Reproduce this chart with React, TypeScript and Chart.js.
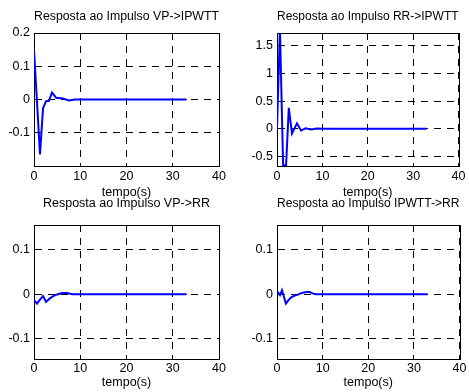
import React, { useEffect, useRef } from "react";
import { Chart, registerables } from "chart.js";

Chart.register(...registerables);

// ---- data ----
const X_TICKS = [0, 10, 20, 30, 40];

const TITLE_VP_IPWTT = "Resposta ao Impulso VP->IPWTT";
const T_VP_IPWTT = [0, 1.3, 1.95, 2.6, 3.25, 3.9, 4.8, 6.2, 7.6, 8.8, 33];
const V_VP_IPWTT = [0.15, -0.165, -0.027, -0.005, -0.004, 0.021, 0.005, 0.003, -0.003, 0, 0];
const Y_TICKS_VP_IPWTT = [-0.1, 0, 0.1, 0.2];

const TITLE_RR_IPWTT = "Resposta ao Impulso RR->IPWTT";
const T_RR_IPWTT = [0, 0.65, 1.35, 2.0, 2.6, 3.3, 4.4, 5.3, 6.3, 7.5, 8.8, 10, 33];
const V_RR_IPWTT = [0, 1.8, -0.66, -0.66, 0.38, -0.085, 0.1, -0.03, 0.01, -0.01, 0.005, 0, 0];
const Y_TICKS_RR_IPWTT = [-0.5, 0, 0.5, 1, 1.5];

const TITLE_VP_RR = "Resposta ao Impulso VP->RR";
const T_VP_RR = [0, 0.65, 1.3, 1.95, 2.6, 3.25, 3.9, 4.55, 5.2, 5.85, 6.5, 7.15, 7.8, 8.45, 9.1, 33];
const V_VP_RR = [-0.013, -0.021, -0.012, -0.004, -0.017, -0.011, -0.006, -0.002, 0, 0.002, 0.003, 0.003, 0.001, 0, 0, 0];
const Y_TICKS_VP_RR = [-0.1, 0, 0.1];

const TITLE_IPWTT_RR = "Resposta ao Impulso IPWTT->RR";
const T_IPWTT_RR = [0, 0.65, 1.1, 1.95, 2.6, 3.25, 3.9, 4.55, 5.2, 5.85, 6.5, 7.15, 7.8, 8.45, 33];
const V_IPWTT_RR = [0.007, -0.002, 0.009, -0.021, -0.012, -0.006, -0.003, -0.001, 0.002, 0.004, 0.005, 0.005, 0.002, 0, 0];
const Y_TICKS_IPWTT_RR = [-0.1, 0, 0.1];

const X_LABEL = "tempo(s)";

// ---- layout ----
const W = 469;
const H = 392;
const FONT_FAMILY = "'Liberation Sans', Arial, Helvetica, sans-serif";
const FS = 12.5;
const LH = 15; // FS * 1.2
const YW = 30;

type Box = { L: number; T: number; R: number; B: number; titleMid: number; tickMid: number; xlabMid: number };

type PanelProps = {
  title: string;
  times: number[];
  values: number[];
  yMin: number;
  yMax: number;
  yTicks: number[];
  box: Box;
};

const framePlugin = {
  id: "frame",
  beforeDatasetsDraw(chart: any) {
    const { ctx, chartArea } = chart;
    const l = Math.round(chartArea.left) + 0.5;
    const t = Math.round(chartArea.top) + 0.5;
    const r = Math.round(chartArea.right) + 0.5;
    const b = Math.round(chartArea.bottom) + 0.5;
    ctx.save();
    ctx.setLineDash([]);
    ctx.strokeStyle = "#000";
    ctx.lineWidth = 1;
    ctx.strokeRect(l, t, r - l, b - t);
    ctx.restore();
  },
};

function Panel({ title, times, values, yMin, yMax, yTicks, box }: PanelProps) {
  const ref = useRef<HTMLCanvasElement | null>(null);
  useEffect(() => {
    if (!ref.current) return;
    const XH = box.xlabMid + LH / 2 - box.B;
    const titlePadTop = box.titleMid - LH / 2;
    const titlePadBottom = box.T - titlePadTop - LH;
    const font = { family: FONT_FAMILY, size: FS, lineHeight: 1.2 };
    const chart = new Chart(ref.current, {
      type: "line",
      data: {
        datasets: [
          {
            data: times.map((t, i) => ({ x: t, y: values[i] })),
            borderColor: "#0000ff",
            borderWidth: 2,
            pointRadius: 0,
            fill: false,
            tension: 0,
          },
        ],
      },
      options: {
        responsive: false,
        animation: false,
        events: [],
        layout: {
          padding: {
            left: box.L - YW,
            right: W - box.R,
            top: 0,
            bottom: H - box.B - XH,
          },
        },
        plugins: {
          legend: { display: false },
          tooltip: { enabled: false },
          title: {
            display: true,
            text: title,
            color: "#000",
            font: { ...font, weight: "normal" },
            padding: { top: titlePadTop, bottom: titlePadBottom },
            fullSize: false,
          },
        },
        scales: {
          x: {
            type: "linear",
            min: X_TICKS[0],
            max: X_TICKS[X_TICKS.length - 1],
            afterBuildTicks: (s: any) => {
              s.ticks = X_TICKS.map((v) => ({ value: v }));
            },
            afterFit: (s: any) => {
              s.height = XH;
            },
            grid: { color: "#000", lineWidth: 1, drawTicks: false },
            border: { display: true, color: "#000", dash: [7, 6] },
            ticks: {
              color: "#000",
              font,
              padding: box.tickMid - box.B - LH / 2,
              maxRotation: 0,
              autoSkip: false,
              callback: (v: any) => String(v),
            },
            title: { display: true, text: X_LABEL, color: "#000", font, padding: 0 },
          },
          y: {
            type: "linear",
            min: yMin,
            max: yMax,
            afterBuildTicks: (s: any) => {
              s.ticks = yTicks.map((v) => ({ value: v }));
            },
            afterFit: (s: any) => {
              s.width = YW;
            },
            grid: { color: "#000", lineWidth: 1, drawTicks: false },
            border: { display: true, color: "#000", dash: [7, 6] },
            ticks: {
              color: "#000",
              font,
              padding: 4,
              autoSkip: false,
              callback: (v: any) => String(v),
            },
          },
        },
      },
      plugins: [framePlugin],
    } as any);
    return () => chart.destroy();
  }, []);
  return (
    <canvas
      ref={ref}
      width={W}
      height={H}
      style={{ position: "absolute", left: 0, top: 0, width: W, height: H }}
    />
  );
}

const TOP_L: Box = { L: 34, T: 33, R: 219, B: 166, titleMid: 17, tickMid: 177, xlabMid: 192.5 };
const TOP_R: Box = { L: 277, T: 33, R: 463, B: 166, titleMid: 17, tickMid: 177, xlabMid: 192.5 };
const BOT_L: Box = { L: 34, T: 225, R: 219, B: 359, titleMid: 203.5, tickMid: 369, xlabMid: 383 };
const BOT_R: Box = { L: 277, T: 225, R: 463, B: 359, titleMid: 203.5, tickMid: 369, xlabMid: 383 };

export default function App() {
  return (
    <div style={{ position: "absolute", left: 0, top: 0, width: W, height: H, background: "#fff" }}>
      <Panel title={TITLE_VP_IPWTT} times={T_VP_IPWTT} values={V_VP_IPWTT} yMin={-0.2} yMax={0.2} yTicks={Y_TICKS_VP_IPWTT} box={TOP_L} />
      <Panel title={TITLE_RR_IPWTT} times={T_RR_IPWTT} values={V_RR_IPWTT} yMin={-0.67} yMax={1.73} yTicks={Y_TICKS_RR_IPWTT} box={TOP_R} />
      <Panel title={TITLE_VP_RR} times={T_VP_RR} values={V_VP_RR} yMin={-0.145} yMax={0.155} yTicks={Y_TICKS_VP_RR} box={BOT_L} />
      <Panel title={TITLE_IPWTT_RR} times={T_IPWTT_RR} values={V_IPWTT_RR} yMin={-0.145} yMax={0.155} yTicks={Y_TICKS_IPWTT_RR} box={BOT_R} />
    </div>
  );
}
